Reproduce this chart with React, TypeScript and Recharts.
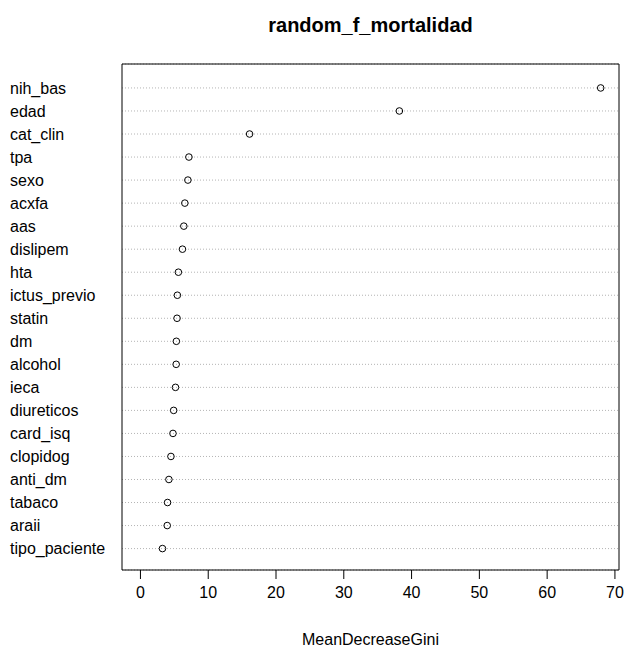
import {
  CartesianGrid,
  ReferenceArea,
  Scatter,
  ScatterChart,
  XAxis,
  YAxis,
} from "recharts";

// variable importance of the random forest, most important first
const variables: string[] = [
  "nih_bas", "edad", "cat_clin", "tpa", "sexo", "acxfa", "aas", "dislipem",
  "hta", "ictus_previo", "statin", "dm", "alcohol", "ieca", "diureticos",
  "card_isq", "clopidog", "anti_dm", "tabaco", "araii", "tipo_paciente",
];
const meanDecreaseGini: number[] = [
  67.9, 38.2, 16.1, 7.15, 7.0, 6.55, 6.4, 6.2,
  5.6, 5.45, 5.4, 5.3, 5.27, 5.17, 4.9,
  4.8, 4.5, 4.2, 4.0, 3.95, 3.25,
];
const xTicks: number[] = [0, 10, 20, 30, 40, 50, 60, 70];

const n = variables.length;
// dotchart puts the first variable at the top row
const data = variables.map((name, i) => ({
  name,
  value: meanDecreaseGini[i],
  row: n - i,
}));
const rowTicks = data.map((d) => d.row);

const X_DOMAIN: [number, number] = [-2.72, 70.6];
const Y_DOMAIN: [number, number] = [0.07, 22.04];
const FONT = "'Liberation Sans', Arial, sans-serif";

function RowLabel(props: any) {
  const { y, payload } = props;
  const d = data.find((r) => r.row === payload.value);
  return (
    <text x={10} y={y} dy="0.36em" textAnchor="start" fontSize={16} fontFamily={FONT} fill="#000">
      {d ? d.name : ""}
    </text>
  );
}

function OpenCircle(props: any) {
  const { cx, cy } = props;
  return <circle cx={cx} cy={cy} r={3.3} fill="none" stroke="#000" strokeWidth={1} />;
}

export default function App() {
  return (
    <div style={{ position: "absolute", left: 0, top: 0, width: 625, height: 649, background: "#fff" }}>
      <div
        style={{
          position: "absolute",
          left: 122,
          width: 497,
          top: 13,
          textAlign: "center",
          fontFamily: FONT,
          fontWeight: "bold",
          fontSize: 20,
          lineHeight: "24px",
          color: "#000",
        }}
      >
        random_f_mortalidad
      </div>
      <ScatterChart width={625} height={649} margin={{ top: 64, right: 6, bottom: 0, left: 0 }}>
        <CartesianGrid vertical={false} stroke="#b4b4b4" strokeDasharray="1 2" />
        <XAxis
          type="number"
          dataKey="value"
          domain={X_DOMAIN}
          ticks={xTicks}
          allowDataOverflow
          height={79}
          axisLine={false}
          tickSize={9}
          tickMargin={8}
          tickLine={{ stroke: "#000" }}
          tick={{ fontSize: 16, fontFamily: FONT, fill: "#000" }}
          label={{
            value: "MeanDecreaseGini",
            position: "insideBottom",
            offset: 4,
            fontSize: 16,
            fontFamily: FONT,
            fill: "#000",
          }}
        />
        <YAxis
          type="number"
          dataKey="row"
          domain={Y_DOMAIN}
          ticks={rowTicks}
          allowDataOverflow
          width={122}
          axisLine={false}
          tickLine={false}
          tick={<RowLabel />}
        />
        <ReferenceArea
          x1={X_DOMAIN[0]}
          x2={X_DOMAIN[1]}
          y1={Y_DOMAIN[0]}
          y2={Y_DOMAIN[1]}
          fill="none"
          stroke="#000"
          strokeWidth={1}
          ifOverflow="visible"
        />
        <Scatter data={data} shape={<OpenCircle />} isAnimationActive={false} />
      </ScatterChart>
    </div>
  );
}
